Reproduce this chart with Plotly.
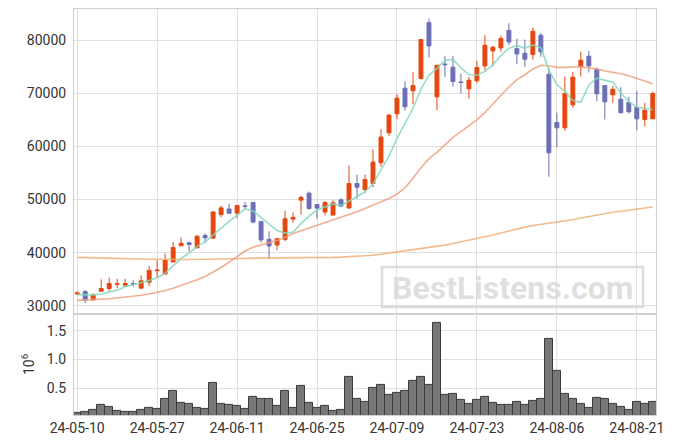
import plotly.graph_objects as go
from plotly.subplots import make_subplots

dates = [
    "24-05-10", "24-05-13", "24-05-14", "24-05-16", "24-05-17", "24-05-20", "24-05-21", "24-05-22",
    "24-05-23", "24-05-24", "24-05-27", "24-05-28", "24-05-29", "24-05-30", "24-05-31",
    "24-06-03", "24-06-04", "24-06-05", "24-06-07", "24-06-10", "24-06-11", "24-06-12", "24-06-13",
    "24-06-14", "24-06-17", "24-06-18", "24-06-19", "24-06-20", "24-06-21", "24-06-24", "24-06-25",
    "24-06-26", "24-06-27", "24-06-28",
    "24-07-01", "24-07-02", "24-07-03", "24-07-04", "24-07-05", "24-07-08", "24-07-09", "24-07-10",
    "24-07-11", "24-07-12", "24-07-15", "24-07-16", "24-07-17", "24-07-18", "24-07-19", "24-07-22",
    "24-07-23", "24-07-24", "24-07-25", "24-07-26", "24-07-29", "24-07-30", "24-07-31",
    "24-08-01", "24-08-02", "24-08-05", "24-08-06", "24-08-07", "24-08-08", "24-08-09", "24-08-12",
    "24-08-13", "24-08-14", "24-08-16", "24-08-19", "24-08-20", "24-08-21", "24-08-22", "24-08-23",
]

open_ = [
    32200, 32660, 31080, 32720, 33230, 34050, 33860, 34140, 33290, 34430,
    36600, 35950, 38230, 41270, 41840, 40890, 43230, 42730, 47150, 48230,
    47440, 48800, 49440, 45880, 42500, 41440, 42500, 46310, 49880, 51190,
    49060, 47630, 47060, 49940, 48380, 53000, 51880, 53030, 56930, 62570,
    66140, 70970, 70470, 72790, 83320, 69340, 75520, 74920, 72150, 70850,
    72350, 75170, 78000, 78560, 81880, 78430, 77550, 77300, 80940, 73600,
    64510, 63510, 67840, 74980, 76990, 74540, 71470, 69720, 68900, 68280,
    67330, 65080, 65200,
]
high = [
    32700, 32900, 32340, 34940, 35250, 35060, 35060, 34870, 35700, 37470,
    38550, 39800, 42000, 42850, 42090, 43230, 43610, 47850, 48860, 49220,
    49000, 49560, 49440, 45880, 44000, 42630, 47880, 47560, 50750, 51500,
    49060, 49690, 49880, 50250, 56380, 54690, 54690, 59440, 63260, 66080,
    69840, 72290, 73980, 80130, 84080, 75300, 77050, 77050, 73730, 73100,
    76110, 81000, 78940, 80940, 83200, 80310, 80130, 82380, 81380, 74860,
    66390, 73170, 74040, 77870, 77990, 74860, 71470, 71380, 71160, 69340,
    70470, 68210, 70350,
]
low = [
    32000, 30500, 30950, 32700, 32720, 33290, 33540, 33600, 33290, 33670,
    35250, 35950, 38230, 41270, 40190, 40890, 41770, 42540, 46650, 47280,
    46440, 48130, 45500, 41880, 38750, 40440, 42130, 45630, 47130, 48060,
    46380, 47000, 47060, 48630, 48380, 50130, 51250, 52290, 56170, 61940,
    65140, 66770, 67960, 72600, 76740, 66830, 73100, 71280, 69970, 69030,
    71980, 74350, 75050, 77800, 79120, 75490, 74980, 76360, 76870, 54290,
    59810, 62950, 67270, 73170, 73920, 68530, 65080, 68210, 66330, 66210,
    63070, 63820, 65200,
]
close = [
    32400, 31080, 32030, 33230, 34180, 34120, 34180, 34060, 34680, 36650,
    36700, 38550, 40950, 41770, 41520, 43100, 42790, 47660, 48420, 47420,
    48880, 48700, 45750, 42380, 41250, 42630, 46380, 46630, 50380, 48310,
    48380, 49440, 49380, 48750, 53000, 52310, 53750, 57050, 61770, 65900,
    69100, 67460, 71470, 80130, 78930, 75300, 75400, 72230, 72050, 72480,
    74860, 79060, 78680, 80310, 79690, 77430, 76430, 81690, 77810, 58810,
    63510, 69970, 73040, 76240, 75170, 69910, 68400, 70780, 66330, 66520,
    65200, 66830, 69970,
]

ma5 = [
    32090, 32030, 32030, 32200, 32584, 32928, 33548, 33954, 34244, 34738,
    35254, 36128, 37506, 38924, 39898, 41178, 42026, 43368, 44698, 45878,
    47034, 48216, 47834, 46626, 45392, 44142, 43678, 43854, 45454, 46866,
    48016, 48628, 49178, 48852, 49790, 50576, 51438, 52972, 55576, 58156,
    61514, 64256, 67140, 70812, 73418, 74658, 76246, 76398, 74782, 73492,
    73404, 74136, 75426, 77078, 78520, 79034, 78508, 79110, 78610, 74434,
    71650, 70358, 68628, 68314, 71586, 72866, 72552, 72100, 70118, 68388,
    67446, 67132, 66970,
]
ma20 = [
    31000, 31050, 31100, 31200, 31300, 31450, 31600, 31750, 31950, 32200,
    32500, 32850, 33300, 33800, 34300, 34900, 35500, 36300, 37200, 38200,
    39200, 40300, 41000, 41400, 41800, 42300, 42900, 43600, 44100, 44600,
    45100, 45600, 46100, 46600, 47100, 47700, 48300, 48900, 49500, 50200,
    51000, 52200, 54000, 56000, 57700, 58900, 60300, 61700, 62800, 63900,
    65000, 66400, 68000, 69800, 71200, 72600, 73500, 74600, 75300, 75200,
    74900, 74900, 75000, 75000, 74800, 74600, 74200, 74000, 73700, 73300,
    72800, 72300, 71800,
]
ma120 = [
    39100, 39050, 39000, 38950, 38900, 38900, 38850, 38800, 38800, 38750,
    38750, 38700, 38700, 38700, 38700, 38700, 38700, 38750, 38800, 38850,
    38900, 38950, 39000, 39000, 39000, 39000, 39000, 39000, 39000, 39050,
    39050, 39100, 39100, 39150, 39200, 39300, 39400, 39500, 39700, 39900,
    40100, 40300, 40500, 40700, 40900, 41100, 41400, 41700, 42000, 42300,
    42600, 42900, 43300, 43700, 44100, 44500, 44800, 45100, 45300, 45500,
    45700, 45900, 46200, 46500, 46800, 47100, 47400, 47600, 47800, 48000,
    48200, 48400, 48600,
]
volume_m = [
    0.069, 0.092, 0.126, 0.213, 0.178, 0.109, 0.086, 0.086, 0.126, 0.161,
    0.144, 0.316, 0.454, 0.247, 0.230, 0.161, 0.144, 0.592, 0.230, 0.213,
    0.195, 0.144, 0.351, 0.316, 0.316, 0.195, 0.454, 0.161, 0.540, 0.247,
    0.161, 0.195, 0.109, 0.126, 0.695, 0.316, 0.264, 0.506, 0.552, 0.385,
    0.420, 0.454, 0.626, 0.695, 0.552, 1.626, 0.385, 0.402, 0.299, 0.230,
    0.299, 0.351, 0.247, 0.213, 0.213, 0.264, 0.213, 0.282, 0.316, 1.351,
    0.799, 0.402, 0.316, 0.230, 0.161, 0.333, 0.316, 0.230, 0.178, 0.126,
    0.264, 0.230, 0.264,
]

x_ticks = ["24-05-10", "24-05-27", "24-06-11", "24-06-25", "24-07-09", "24-07-23", "24-08-06", "24-08-21"]
price_ticks = [30000, 40000, 50000, 60000, 70000, 80000]
vol_ticks = [0.5, 1.0, 1.5]

UP = "#E6470F"
DOWN = "#6C6EB6"
GRID = "#E0E0E0"
FONT = "Roboto"

W, H = 675, 444
ML, MR, MT, MB = 74, 19, 9, 29

fig = make_subplots(rows=2, cols=1, shared_xaxes=True, vertical_spacing=0,
                    row_heights=[0.751, 0.249])

fig.add_trace(go.Candlestick(
    x=dates, open=open_, high=high, low=low, close=close,
    increasing=dict(line=dict(color=UP, width=1), fillcolor=UP),
    decreasing=dict(line=dict(color=DOWN, width=1), fillcolor=DOWN),
    whiskerwidth=0, showlegend=False, hoverinfo="skip"), row=1, col=1)

fig.add_trace(go.Scatter(x=dates, y=ma120, mode="lines",
                         line=dict(color="rgba(240,175,120,0.85)", width=1.6),
                         showlegend=False, hoverinfo="skip"), row=1, col=1)
fig.add_trace(go.Scatter(x=dates, y=ma20, mode="lines",
                         line=dict(color="rgba(238,160,125,0.85)", width=1.6),
                         showlegend=False, hoverinfo="skip"), row=1, col=1)
fig.add_trace(go.Scatter(x=dates, y=ma5, mode="lines",
                         line=dict(color="rgba(130,215,185,0.85)", width=1.6),
                         showlegend=False, hoverinfo="skip"), row=1, col=1)

fig.add_trace(go.Bar(x=dates, y=volume_m, marker=dict(color="#777777",
                     line=dict(color="#3a3a3a", width=1)),
                     showlegend=False, hoverinfo="skip"), row=2, col=1)

axis_common = dict(showgrid=True, gridcolor=GRID, gridwidth=1, showline=True,
                   linecolor="#D0D0D0", linewidth=1, mirror=True, zeroline=False,
                   automargin=False,
                   tickfont=dict(family=FONT, size=14, color="#333333"))

fig.update_xaxes(type="category", range=[-0.4, 72.4], tickvals=x_ticks, ticktext=x_ticks,
                 rangeslider=dict(visible=False), ticks="", **axis_common)
fig.update_xaxes(showticklabels=False, row=1, col=1)
fig.update_yaxes(range=[28450, 85890], tickvals=price_ticks, tickformat="d",
                 ticks="outside", ticklen=4, tickcolor="rgba(0,0,0,0)",
                 row=1, col=1, **axis_common)
fig.update_yaxes(range=[0.036, 1.79], tickvals=vol_ticks, tickformat=".1f",
                 ticks="outside", ticklen=4, tickcolor="rgba(0,0,0,0)",
                 title=dict(text="10<sup>6</sup>", font=dict(family=FONT, size=14, color="#333333"),
                            standoff=8),
                 row=2, col=1, **axis_common)

fig.update_layout(
    width=W, height=H,
    margin=dict(l=ML, r=MR, t=MT, b=MB, autoexpand=False),
    paper_bgcolor="white", plot_bgcolor="white",
    bargap=0, showlegend=False,
    font=dict(family=FONT, size=14, color="#333333"),
)

pw, ph = W - ML - MR, H - MT - MB
def px(xp):
    return (xp - ML) / pw
def py(yp):
    return (H - MB - yp) / ph

fig.add_shape(type="rect", xref="paper", yref="paper",
              x0=px(382), x1=px(643), y0=py(307), y1=py(267),
              line=dict(color="#DCDCDC", width=2.5), fillcolor="rgba(0,0,0,0)",
              layer="above")
fig.add_annotation(text="<b>BestListens.com</b>", xref="paper", yref="paper",
                   x=px(512), y=py(287.5), xanchor="center", yanchor="middle",
                   showarrow=False,
                   font=dict(family=FONT, size=32, color="rgba(215,215,215,0.8)"))

fig.write_html("out.html",
               config={"displayModeBar": False},
               post_script="document.body.style.margin='0';document.body.style.padding='0';"
                           "document.documentElement.style.overflow='hidden';")
